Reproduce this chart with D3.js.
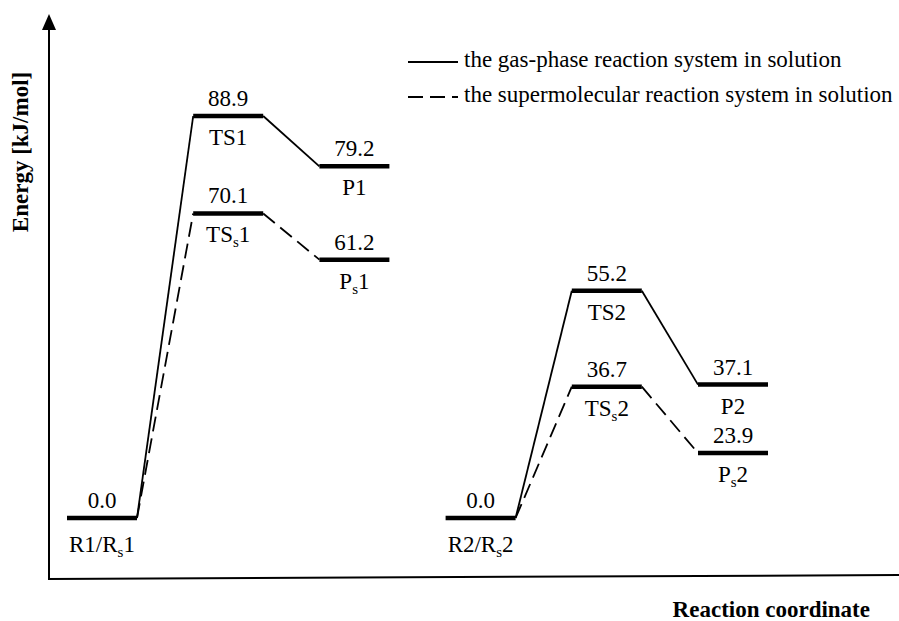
<!DOCTYPE html>
<html>
<head>
<meta charset="utf-8">
<script src="https://cdn.jsdelivr.net/npm/d3@7/dist/d3.min.js"></script>
<style>
  html, body { margin: 0; padding: 0; background: #fff; }
  svg text { font-family: "Liberation Serif", "Times New Roman", "DejaVu Serif", serif; fill: #000; }
</style>
</head>
<body>
<svg id="chart" width="899" height="621"></svg>
<script>
/* ------------------ data ------------------ */

const stages = ["R1", "TS1", "P1", "R2", "TS2", "P2"];
const reactionOf = [1, 1, 1, 2, 2, 2];

// energies, kJ/mol
const gasEnergy = [0.0, 88.9, 79.2, 0.0, 55.2, 37.1];
const superEnergy = [0.0, 70.1, 61.2, 0.0, 36.7, 23.9];

// "_s" marks a subscript s
const gasNames = ["R1/R_s1", "TS1", "P1", "R2/R_s2", "TS2", "P2"];
const superNames = [null, "TS_s1", "P_s1", null, "TS_s2", "P_s2"];

const legendLabels = [
  "the gas-phase reaction system in solution",
  "the supermolecular reaction system in solution"
];

const yTitle = "Energy [kJ/mol]";
const xTitle = "Reaction coordinate";

/* ------------------ constants ------------------ */

const LEVEL_WIDTH = 70;
const REACTANT_LIFT = 59; // reactant levels sit above the axis in the original
const FONT = 23;
const DASH = "15,7";

/* ------------------ scales ------------------ */

const svg = d3.select("#chart");

const x = d3.scalePoint().domain(stages).range([102, 733]);

const y = d3.scaleLinear()
  .domain([0, d3.max(gasEnergy)])
  .range([577, 116]);

/* ------------------ axes ------------------ */

svg.append("line")
  .attr("x1", 49).attr("y1", y(0) + 2).attr("x2", 49).attr("y2", 26)
  .attr("stroke", "#000").attr("stroke-width", 2);

svg.append("path")
  .attr("d", "M49,14 L42,30 L56,30 Z")
  .attr("fill", "#000");

// the original's baseline is drawn with a slight tilt
svg.append("line")
  .attr("x1", 48).attr("y1", y(0) + 2).attr("x2", 899).attr("y2", y(0) - 2)
  .attr("stroke", "#000").attr("stroke-width", 2);

svg.append("text")
  .attr("transform", "translate(28,152) rotate(-90)")
  .attr("text-anchor", "middle")
  .attr("font-weight", "bold")
  .attr("font-size", FONT)
  .text(yTitle);

svg.append("text")
  .attr("x", 870).attr("y", 617)
  .attr("text-anchor", "end")
  .attr("font-weight", "bold")
  .attr("font-size", FONT)
  .text(xTitle);

/* ------------------ levels ------------------ */

function levels(energy, names) {
  return stages.map((s, i) => ({
    stage: s,
    reaction: reactionOf[i],
    e: energy[i],
    name: names[i],
    x: x(s),
    y: energy[i] === 0 ? y(0) - REACTANT_LIFT : y(energy[i])
  }));
}

const gasLevels = levels(gasEnergy, gasNames);
const superLevels = levels(superEnergy, superNames);

function connectors(ls) {
  const out = [];
  for (let i = 0; i < ls.length - 1; i++) {
    if (ls[i].reaction !== ls[i + 1].reaction) continue;
    out.push({ a: ls[i], b: ls[i + 1] });
  }
  return out;
}

const g = svg.append("g");

g.selectAll("line.gas-link")
  .data(connectors(gasLevels))
  .join("line")
  .attr("class", "gas-link")
  .attr("x1", d => d.a.x + LEVEL_WIDTH / 2).attr("y1", d => d.a.y)
  .attr("x2", d => d.b.x - LEVEL_WIDTH / 2).attr("y2", d => d.b.y)
  .attr("stroke", "#000").attr("stroke-width", 1.8);

g.selectAll("line.super-link")
  .data(connectors(superLevels))
  .join("line")
  .attr("class", "super-link")
  .attr("x1", d => d.a.x + LEVEL_WIDTH / 2).attr("y1", d => d.a.y)
  .attr("x2", d => d.b.x - LEVEL_WIDTH / 2).attr("y2", d => d.b.y)
  .attr("stroke", "#000").attr("stroke-width", 1.8)
  .attr("stroke-dasharray", DASH);

// R levels are shared, so only draw distinct bars
const allLevels = gasLevels.concat(superLevels.filter(d => d.name));

g.selectAll("line.level")
  .data(allLevels)
  .join("line")
  .attr("class", "level")
  .attr("x1", d => d.x - LEVEL_WIDTH / 2).attr("x2", d => d.x + LEVEL_WIDTH / 2)
  .attr("y1", d => d.y).attr("y2", d => d.y)
  .attr("stroke", "#000").attr("stroke-width", 4.5);

g.selectAll("text.value")
  .data(allLevels)
  .join("text")
  .attr("class", "value")
  .attr("x", d => d.x).attr("y", d => d.y - 10)
  .attr("text-anchor", "middle")
  .attr("font-size", FONT)
  .text(d => d.e.toFixed(1));

function writeName(sel) {
  sel.each(function (d) {
    const t = d3.select(this);
    d.name.split("_").forEach((part, i) => {
      if (i === 0) {
        t.append("tspan").text(part);
      } else {
        t.append("tspan").attr("font-size", 15).attr("dy", 5).text(part[0]);
        t.append("tspan").attr("dy", -5).text(part.slice(1));
      }
    });
  });
}

g.selectAll("text.name")
  .data(allLevels)
  .join("text")
  .attr("class", "name")
  .attr("x", d => d.x).attr("y", d => d.y + (d.e === 0 ? 34 : 29))
  .attr("text-anchor", "middle")
  .attr("font-size", FONT)
  .call(writeName);

/* ------------------ legend ------------------ */

const legend = svg.append("g").attr("transform", "translate(408,62)");

legend.selectAll("line")
  .data(legendLabels)
  .join("line")
  .attr("x1", 0).attr("x2", 50)
  .attr("y1", (d, i) => i * 35).attr("y2", (d, i) => i * 35)
  .attr("stroke", "#000").attr("stroke-width", 1.8)
  .attr("stroke-dasharray", (d, i) => i ? DASH : null);

legend.selectAll("text")
  .data(legendLabels)
  .join("text")
  .attr("x", 56)
  .attr("y", (d, i) => i * 35 + 5)
  .attr("font-size", FONT)
  .text(d => d);
</script>
</body>
</html>
